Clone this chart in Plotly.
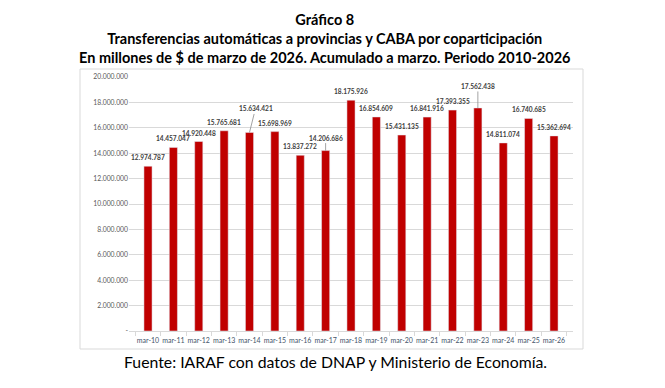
import plotly.graph_objects as go

# ---- data ----
categories = ["mar-10", "mar-11", "mar-12", "mar-13", "mar-14", "mar-15", "mar-16", "mar-17",
              "mar-18", "mar-19", "mar-20", "mar-21", "mar-22", "mar-23", "mar-24", "mar-25", "mar-26"]
values = [12974787, 14457047, 14920448, 15765681, 15634421, 15698969, 13837272, 14206686,
          18175926, 16854609, 15431135, 16841916, 17393355, 17562438, 14811074, 16740685, 15362694]
y_tick_values = [0, 2000000, 4000000, 6000000, 8000000, 10000000, 12000000, 14000000,
                 16000000, 18000000, 20000000]
y_tick_labels = ["-", "2.000.000", "4.000.000", "6.000.000", "8.000.000", "10.000.000",
                 "12.000.000", "14.000.000", "16.000.000", "18.000.000", "20.000.000"]

title_lines = ["Gráfico 8",
               "Transferencias automáticas a provincias y CABA por coparticipación",
               "En millones de $ de marzo de 2026. Acumulado a marzo. Periodo 2010-2026"]
source_text = "Fuente: IARAF con datos de DNAP y Ministerio de Economía."


def fmt(v):
    return f"{v:,}".replace(",", ".")


# label placement (pixel offsets); leader lines for a few labels
leaders = {"mar-14": (6, -24), "mar-17": (0, -13), "mar-23": (0, -22)}

FONT = "Lato, Calibri, sans-serif"

fig = go.Figure()
fig.add_trace(go.Bar(
    x=categories, y=values, marker_color="#C00000", width=0.32,
    hoverinfo="x+y",
))

for c, v in zip(categories, values):
    if c in leaders:
        dx, dy = leaders[c]
        fig.add_annotation(x=c, y=v, text="<b>" + fmt(v) + "</b>", showarrow=True, arrowhead=0,
                           arrowwidth=0.8, arrowcolor="#8C8C8C", ax=dx, ay=dy,
                           standoff=0, font=dict(family=FONT, size=6.6, color="#404040"))
    else:
        fig.add_annotation(x=c, y=v, text="<b>" + fmt(v) + "</b>", showarrow=False, yshift=9,
                           yanchor="middle",
                           font=dict(family=FONT, size=6.6, color="#404040"))

# title
fig.add_annotation(xref="paper", yref="paper", x=(325 - 129) / 444, y=(331 - 9) / 254,
                   text="<b>" + "<br>".join(title_lines) + "</b>", showarrow=False,
                   yanchor="top", xanchor="center", align="center",
                   font=dict(family=FONT, size=14.5, color="#000000"))
# source
fig.add_annotation(xref="paper", yref="paper", x=(335 - 129) / 444, y=(331 - 361) / 254,
                   text=source_text, showarrow=False, yanchor="middle", xanchor="center",
                   font=dict(family=FONT, size=15.8, color="#000000"))

# chart border
fig.add_shape(type="rect", xref="paper", yref="paper",
              x0=(80 - 129) / 444, x1=(583 - 129) / 444,
              y0=(331 - 349) / 254, y1=(331 - 69) / 254,
              line=dict(color="#D9D9D9", width=1))

fig.update_layout(
    width=665, height=388,
    margin=dict(l=129, r=92, t=77, b=57),
    paper_bgcolor="white", plot_bgcolor="white",
    showlegend=False,
    font=dict(family=FONT),
)
fig.update_xaxes(
    showline=True, linecolor="#D9D9D9", linewidth=1,
    ticks="outside", tickson="boundaries", ticklen=4, tickcolor="#D9D9D9",
    tickfont=dict(family=FONT, size=7, color="#44546A"), tickangle=0,
    ticklabelstandoff=3,
    showgrid=False,
)
fig.update_yaxes(
    range=[0, 20000000], tickvals=y_tick_values, ticktext=y_tick_labels,
    showgrid=True, gridcolor="#D9D9D9", gridwidth=1, zeroline=False,
    tickfont=dict(family=FONT, size=6.8, color="#595959"),
    ticks="", showline=False,
)

fig.write_html("out.html", config={"displayModeBar": False},
               post_script="document.body.style.margin='0px';")
